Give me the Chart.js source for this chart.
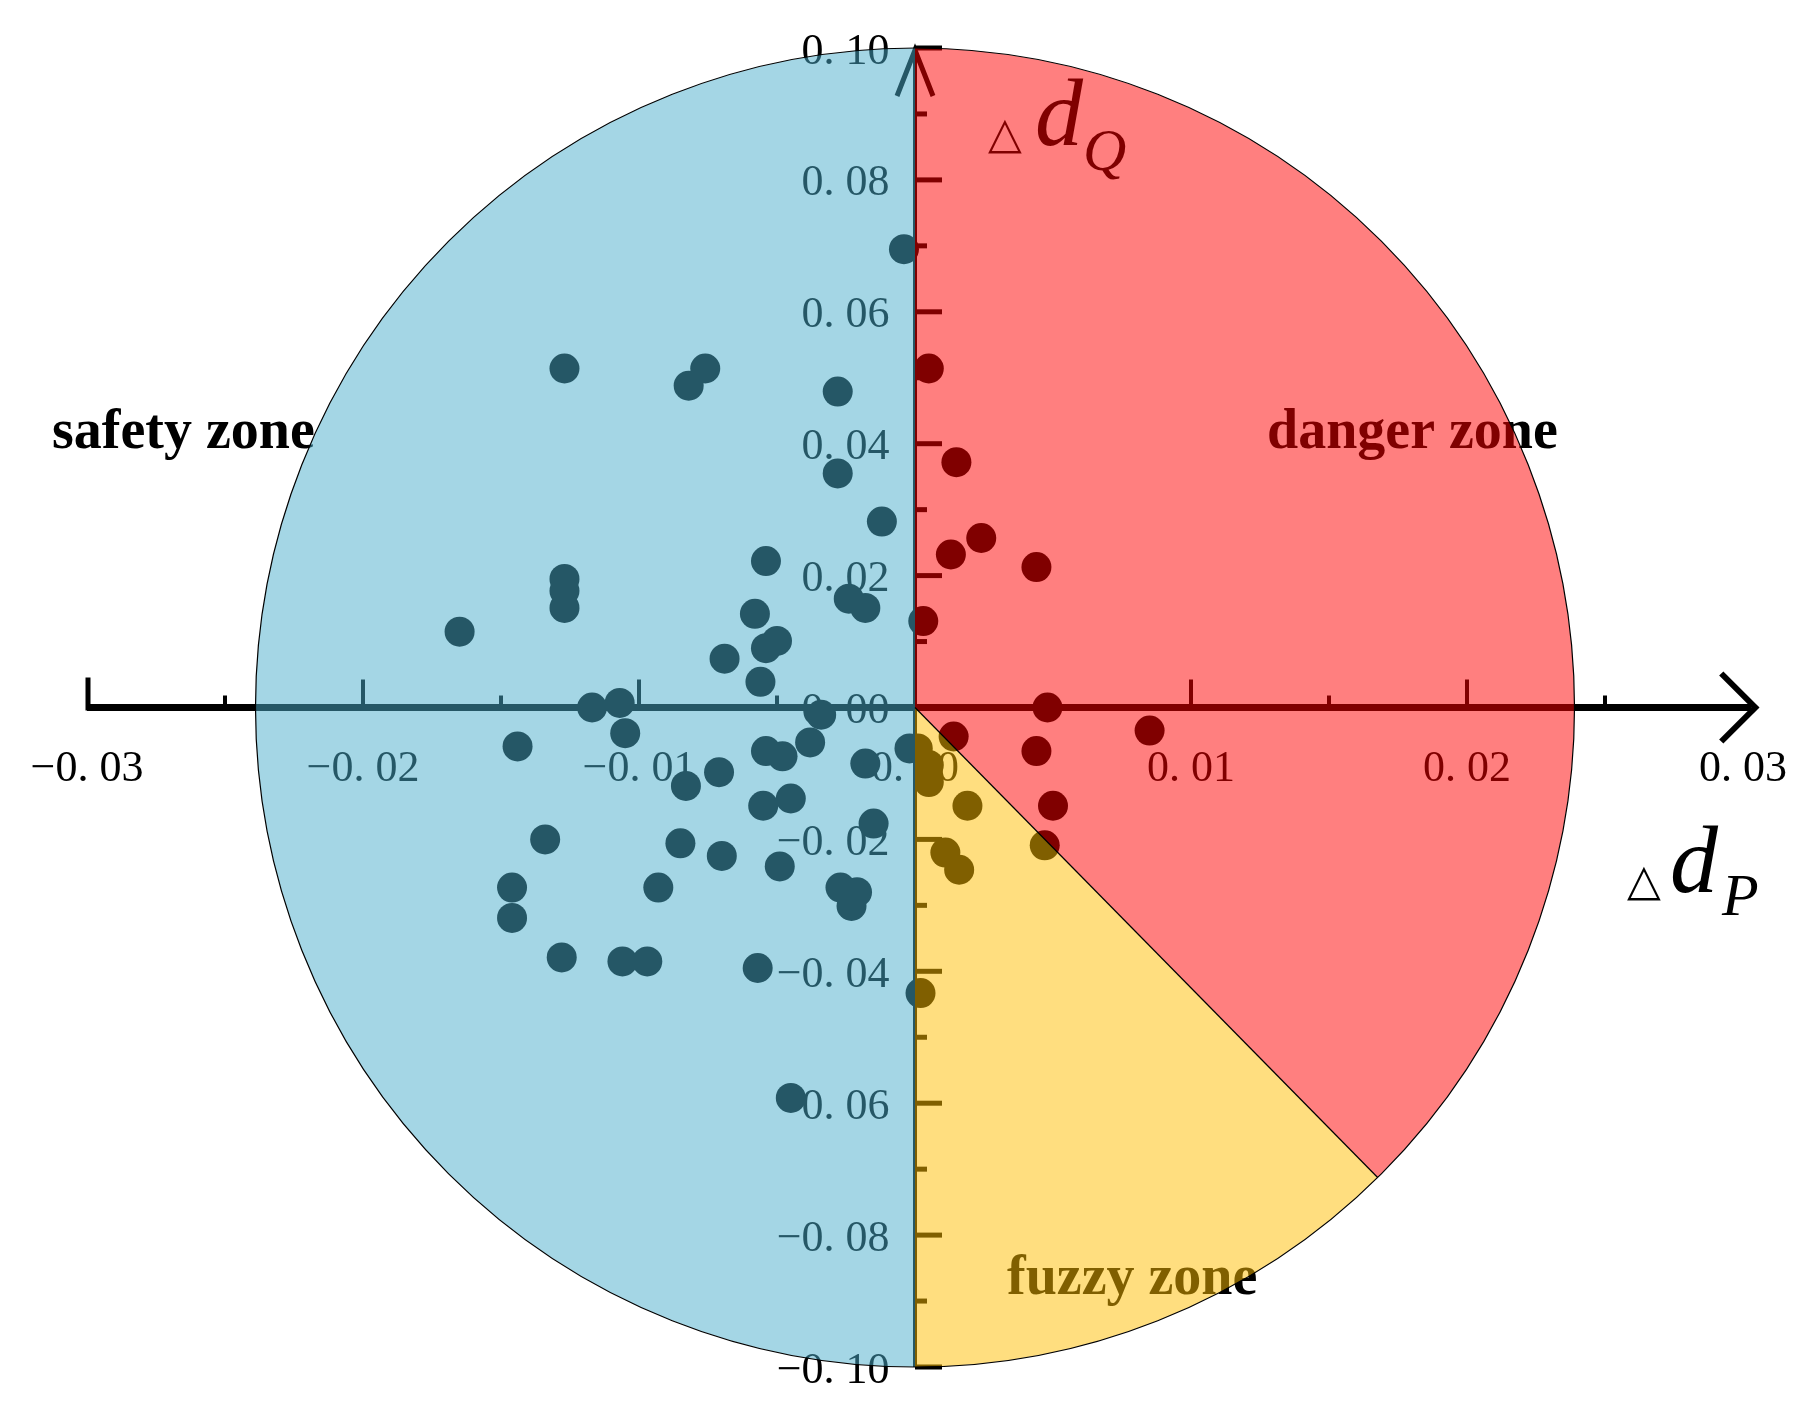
<!DOCTYPE html>
<html><head><meta charset="utf-8">
<script src="https://cdn.jsdelivr.net/npm/chart.js@4/dist/chart.umd.min.js"></script>
<style>html,body{margin:0;padding:0;background:#fff}#w{width:1809px;height:1419px}</style>
</head><body><div id="w"><canvas id="c"></canvas></div>
<script>
const xTicks=[-0.03,-0.02,-0.01,0,0.01,0.02,0.03];
const xTickLabels=['−0. 03','−0. 02','−0. 01','0. 00','0. 01','0. 02','0. 03'];
const yTicks=[-0.10,-0.08,-0.06,-0.04,-0.02,0,0.02,0.04,0.06,0.08,0.10];
const yTickLabels=['−0. 10','−0. 08','−0. 06','−0. 04','−0. 02','0. 00','0. 02','0. 04','0. 06','0. 08','0. 10'];
const dP=[-0.0004,-0.0127,-0.0076,-0.0082,-0.0028,-0.0028,-0.0012,-0.0054,-0.0127,-0.0127,-0.0127,-0.0024,-0.0018,-0.0165,-0.0058,-0.0050,-0.0054,-0.0069,-0.0056,-0.0117,-0.0107,-0.0105,-0.0034,-0.0038,-0.0144,-0.0054,-0.0048,-0.0083,-0.0071,-0.0018,-0.0045,-0.0055,-0.0015,-0.0134,-0.0085,-0.0070,-0.0049,-0.0093,-0.0146,-0.0146,-0.0027,-0.0021,-0.0023,-0.0128,-0.0106,-0.0097,-0.0057,-0.0045,-0.0002,
0.0005,0.0015,0.0013,0.0024,0.0044,0.0003,0.0048,0.0014,0.0044,0.0085,0.0050,0.0047,
0.0001,0.0005,0.0005,0.0019,0.0011,0.0016,0.0002];
const dQ=[0.0695,0.0514,0.0514,0.0488,0.0479,0.0355,0.0282,0.0222,0.0195,0.0177,0.0151,0.0165,0.0151,0.0115,0.0142,0.0101,0.0090,0.0074,0.0039,0.0000,0.0007,-0.0039,-0.0011,-0.0053,-0.0059,-0.0066,-0.0074,-0.0119,-0.0098,-0.0085,-0.0138,-0.0149,-0.0176,-0.0200,-0.0206,-0.0225,-0.0241,-0.0273,-0.0273,-0.0319,-0.0273,-0.0280,-0.0301,-0.0379,-0.0385,-0.0385,-0.0395,-0.0592,-0.0062,
0.0514,0.0372,0.0232,0.0257,0.0213,0.0131,0.0000,-0.0044,-0.0066,-0.0035,-0.0149,-0.0209,
-0.0062,-0.0087,-0.0113,-0.0149,-0.0220,-0.0246,-0.0433];
const pts=dP.map((x,i)=>({x,y:dQ[i]}));
const S=1.1537;
const serif='"Liberation Serif","DejaVu Serif",serif';
const plug={id:'p',
 beforeDatasetsDraw(ch){
  const c=ch.ctx,xs=ch.scales.x,ys=ch.scales.y;
  const X=v=>xs.getPixelForValue(v),Y=v=>ys.getPixelForValue(v);
  const x0=X(0),y0=Y(0);
  c.save();c.fillStyle='#000';c.strokeStyle='#000';c.lineCap='butt';
  // x axis
  c.lineWidth=7;c.beginPath();c.moveTo(X(-0.03),y0);c.lineTo(X(0.0303),y0);c.stroke();
  c.lineWidth=5;c.beginPath();c.moveTo(X(-0.03)+1,y0+3);c.lineTo(X(-0.03)+1,y0-30);c.stroke();
  c.lineWidth=4;
  [-0.025,-0.02,-0.015,-0.01,-0.005,0.005,0.01,0.015,0.02,0.025].forEach(v=>{
   const maj=Math.abs(Math.round(v*1000))%10===0;
   c.beginPath();c.moveTo(X(v),y0);c.lineTo(X(v),y0-(maj?28:12));c.stroke();});
  c.lineWidth=6;c.beginPath();c.moveTo(X(0.0303)-30,y0-34);c.lineTo(X(0.0303)+4,y0);c.lineTo(X(0.0303)-30,y0+34);c.stroke();
  // y axis
  c.lineWidth=4;c.beginPath();c.moveTo(x0,Y(-0.1));c.lineTo(x0,Y(0.1));c.stroke();
  c.lineWidth=5;
  for(let k=-10;k<=10;k++){if(k===0)continue;const v=k/100;const maj=k%2===0;
   c.beginPath();c.moveTo(x0,Y(v));c.lineTo(x0+(maj?27:12),Y(v));c.stroke();}
  c.lineWidth=5;c.beginPath();c.moveTo(x0-18,Y(0.1)+48);c.lineTo(x0,Y(0.1)+2);c.lineTo(x0+18,Y(0.1)+48);c.stroke();
  // tick labels
  c.font='44px '+serif;c.textBaseline='middle';c.textAlign='center';
  xTicks.forEach((v,i)=>c.fillText(xTickLabels[i],X(v),y0+62));
  c.textAlign='right';
  yTicks.forEach((v,i)=>c.fillText(yTickLabels[i],x0-22*S,Y(v)+4));
  // zone labels
  c.font='bold 56px '+serif;c.textAlign='left';c.textBaseline='alphabetic';
  c.fillText('safety zone',52,448);
  c.fillText('danger zone',1267,448);
  c.fillText('fuzzy zone',1007,1294);
  // axis titles
  c.font='italic 92px '+serif;
  c.font='44px '+serif;c.fillText('△',988,148);c.fillText('△',1627,895);
  c.font='italic 96px '+serif;c.fillText('d',1035,145);c.fillText('d',1670,892);
  c.font='italic 60px '+serif;c.fillText('Q',1083,170);c.fillText('P',1722,915);
  c.restore();
 },
 afterDatasetsDraw(ch){
  const c=ch.ctx,xs=ch.scales.x,ys=ch.scales.y;
  const x0=xs.getPixelForValue(0),y0=ys.getPixelForValue(0);
  const R=y0-ys.getPixelForValue(0.1);
  const a1=Math.PI/4*1.01;
  c.save();c.globalAlpha=0.5;
  const wedge=(s,e,col)=>{c.fillStyle=col;c.beginPath();c.moveTo(x0,y0);c.arc(x0,y0,R,s,e);c.closePath();c.fill();};
  wedge(Math.PI/2,Math.PI*1.5,'rgb(74,174,204)');
  wedge(-Math.PI/2,a1,'rgb(255,0,0)');
  wedge(a1,Math.PI/2,'rgb(255,190,0)');
  c.globalAlpha=1;c.strokeStyle='#000';c.lineWidth=1.2;
  c.beginPath();c.arc(x0,y0,R,0,Math.PI*2);c.stroke();
  c.beginPath();c.moveTo(x0,y0);c.lineTo(x0+R*Math.cos(a1),y0+R*Math.sin(a1));c.stroke();
  c.restore();
 }};
new Chart(document.getElementById('c'),{type:'scatter',
 data:{datasets:[{data:pts,backgroundColor:'#000',borderWidth:0,pointRadius:15,pointHoverRadius:15}]},
 options:{responsive:true,maintainAspectRatio:false,animation:false,events:[],
  layout:{padding:{left:87,right:66,top:48,bottom:52}},
  plugins:{legend:{display:false},tooltip:{enabled:false}},
  scales:{x:{type:'linear',min:-0.03,max:0.03,display:false},y:{type:'linear',min:-0.1,max:0.1,display:false}}},
 plugins:[plug]});
</script></body></html>
